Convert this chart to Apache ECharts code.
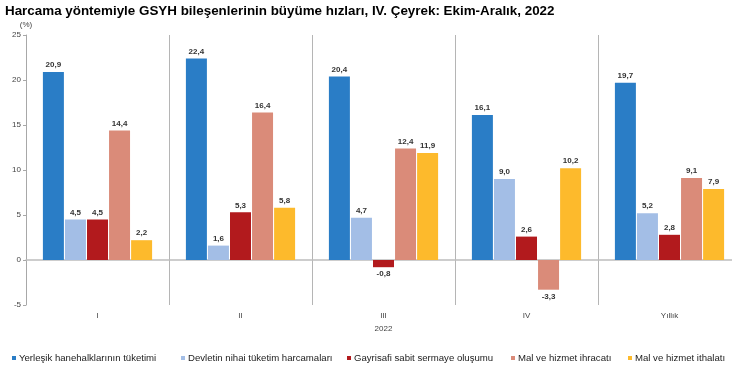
<!DOCTYPE html>
<html><head><meta charset="utf-8">
<script src="https://cdn.jsdelivr.net/npm/echarts@6/dist/echarts.min.js"></script>
<style>html,body{margin:0;padding:0;background:#fff}#c{width:732px;height:370px}</style>
</head><body><div id="c"></div>
<script>
const categories = ['I', 'II', 'III', 'IV', 'Yıllık'];
const yTicks = [-5, 0, 5, 10, 15, 20, 25];
const seriesNames = ['Yerleşik hanehalklarının tüketimi', 'Devletin nihai tüketim harcamaları', 'Gayrisafi sabit sermaye oluşumu', 'Mal ve hizmet ihracatı', 'Mal ve hizmet ithalatı'];
const hanehalki = [20.9, 22.4, 20.4, 16.1, 19.7];
const devlet = [4.5, 1.6, 4.7, 9.0, 5.2];
const gsso = [4.5, 5.3, -0.8, 2.6, 2.8];
const ihracat = [14.4, 16.4, 12.4, -3.3, 9.1];
const ithalat = [2.2, 5.8, 11.9, 10.2, 7.9];
const colors = ['#2A7DC6', '#A3BEE6', '#B21A1D', '#DA8B79', '#FDBA2C'];

const allData = [hanehalki, devlet, gsso, ihracat, ithalat];
const fmt = v => v.toFixed(1).replace('.', ',');
const legendLeft = [12, 181, 347, 511, 628];

const chart = echarts.init(document.getElementById('c'));
chart.setOption({
  animation: false,
  textStyle: { fontFamily: 'Liberation Sans, Arial, sans-serif' },
  title: {
    text: 'Harcama yöntemiyle GSYH bileşenlerinin büyüme hızları, IV. Çeyrek: Ekim-Aralık, 2022',
    left: 0, top: 0,
    textStyle: { fontSize: 13.4, fontWeight: 'bold', color: '#000' }
  },
  legend: seriesNames.map((n, i) => ({
    left: legendLeft[i], top: 353, itemWidth: 4, itemHeight: 4, padding: 0,
    icon: 'rect',
    textStyle: { fontSize: 9.6, color: '#222', padding: [0, 0, 0, -2] },
    data: [n]
  })),
  grid: { left: 26, width: 715, top: 35, bottom: 65, outerBoundsMode: 'none', containLabel: false },
  xAxis: [{
    type: 'category', data: categories, position: 'bottom',
    axisLine: { show: false, onZero: false },
    axisTick: { show: false },
    axisLabel: { fontSize: 8, color: '#444', margin: 7 },
    splitLine: { show: true, lineStyle: { color: '#b5b5b5', width: 1 } },
    name: '2022', nameLocation: 'middle', nameGap: 19,
    nameTextStyle: { fontSize: 8, color: '#444' }
  }, {
    type: 'category', data: categories, position: 'bottom',
    axisLine: { show: true, onZero: true, lineStyle: { color: '#bdbdbd', width: 1.5 } },
    axisTick: { show: false }, axisLabel: { show: false }, splitLine: { show: false }
  }],
  yAxis: {
    type: 'value', min: yTicks[0], max: yTicks[yTicks.length - 1], interval: 5,
    name: '(%)', nameGap: 6, nameTextStyle: { fontSize: 8, color: '#444' },
    axisLine: { show: true, lineStyle: { color: '#a8a8a8' } },
    axisTick: { show: true, length: 3, lineStyle: { color: '#a8a8a8' } },
    axisLabel: { fontSize: 8, color: '#444', margin: 5 },
    splitLine: { show: false }
  },
  series: allData.map((arr, i) => ({
    name: seriesNames[i], type: 'bar', xAxisIndex: 0,
    barWidth: 21, barGap: '5%',
    itemStyle: { color: colors[i] },
    label: { show: true, fontSize: 8, fontWeight: 'bold', color: '#333', distance: 3, formatter: p => fmt(p.value) },
    data: arr.map(v => ({ value: v, label: { position: v < 0 ? 'bottom' : 'top' } }))
  }))
});
</script></body></html>
